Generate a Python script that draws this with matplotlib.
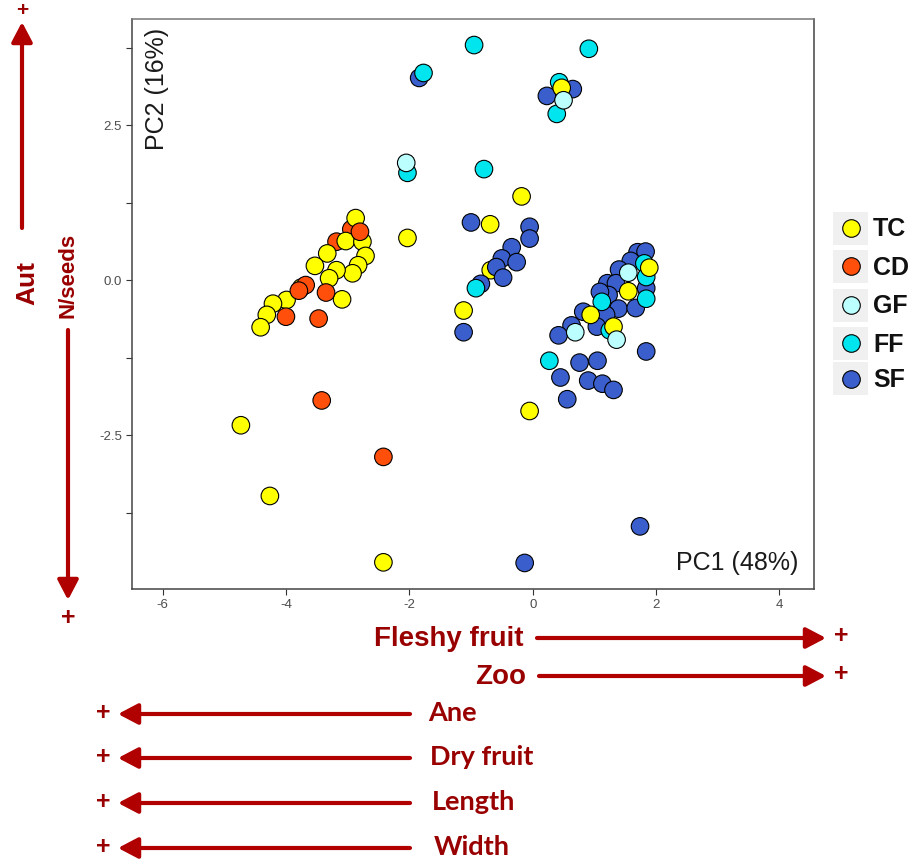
import matplotlib
matplotlib.use("Agg")
import matplotlib.pyplot as plt
from matplotlib.patches import Rectangle
import numpy as np

plt.rcParams["font.family"] = ["Liberation Sans", "DejaVu Sans"]
plt.rcParams["axes.unicode_minus"] = False

# puntos en orden de dibujo (PC1, PC2, grupo)
pc1 = [-0.68, -2.94, -3.18,
       # SF
       -1.84, 0.23, 0.65, -1.00, -0.05, -0.05, -0.34, -0.50, -0.26, -0.59, -0.48, -0.84, -1.12,
       1.70, 1.83, 1.59, 1.40, 1.21, 1.35, 1.84, 1.23, 1.09, 1.39, 1.67, 0.82, 1.19, 1.04,
       0.63, 0.42, 1.84, 0.76, 1.05, 0.45, 0.90, 1.13, 1.31, 0.56, -0.13, 1.74,
       # FF
       -0.95, -1.77, 0.91, 0.43, 0.39, -2.03, -0.79, -0.92, 1.81, 1.84, 1.84, 1.12, 1.25, 0.27,
       # TC
       -2.87, -3.03, -2.76, -2.71, -3.33, -2.83, -2.92, -3.53, -3.18, -3.30, -3.75, -3.09,
       -3.99, -4.21, -4.31, -4.41, -4.73, -4.26, -2.42, -2.03, -0.69, -0.18, -1.12, -0.05,
       0.47, 1.89, 1.55, 0.94, 1.31,
       # CD
       -2.80, -3.68, -3.79, -3.35, -4.00, -3.47, -3.42, -2.42,
       # GF
       -2.05, 0.50, 1.55, 0.69, 1.36]
pc2 = [0.16, 0.82, 0.62,
       3.26, 2.97, 3.08, 0.93, 0.86, 0.67, 0.53, 0.35, 0.29, 0.21, 0.04, -0.06, -0.84,
       0.45, 0.46, 0.31, 0.17, -0.05, -0.05, -0.13, -0.24, -0.19, -0.46, -0.45, -0.51, -0.56, -0.75,
       -0.73, -0.89, -1.15, -1.33, -1.30, -1.57, -1.62, -1.67, -1.77, -1.92, -4.56, -3.97,
       3.79, 3.34, 3.73, 3.19, 2.68, 1.73, 1.79, -0.13, 0.27, 0.05, -0.30, -0.35, -0.81, -1.30,
       1.00, 0.63, 0.62, 0.39, 0.43, 0.24, 0.11, 0.23, 0.16, 0.03, -0.12, -0.31,
       -0.32, -0.38, -0.56, -0.76, -2.34, -3.48, -4.55, 0.68, 0.90, 1.35, -0.49, -2.11,
       3.10, 0.20, -0.18, -0.56, -0.75,
       0.78, -0.08, -0.17, -0.20, -0.59, -0.62, -1.94, -2.85,
       1.89, 2.90, 0.12, -0.84, -0.96]
grupo = (["TC", "CD", "CD"] + ["SF"] * 39 + ["FF"] * 14 + ["TC"] * 29
         + ["CD"] * 8 + ["GF"] * 5)

grupos = ["TC", "CD", "GF", "FF", "SF"]
colores = {"TC": "#FFFF00", "CD": "#FF4F0A", "GF": "#BBFFFF",
           "FF": "#00E5EE", "SF": "#3A5FCD"}

rojo_txt = "#990000"
rojo_flecha = "#B00000"

W, H = 913, 863
fig = plt.figure(figsize=(W / 100, H / 100), dpi=100)
ax = fig.add_axes([131.7 / W, (H - 589) / H, (814 - 131.7) / W, (589 - 19) / H])

ax.scatter(pc1, pc2, c=[colores[g] for g in grupo], s=160,
           edgecolors="black", linewidths=0.8, zorder=3)

ax.set_xlim(-6.5, 4.56)
ax.set_ylim(-4.98, 4.21)
ax.set_xticks([-6, -4, -2, 0, 2, 4])
ax.set_yticks(np.arange(-3.75, 4.0, 1.25))
ax.set_yticklabels(["" if abs(t) % 2.5 else f"{t:.1f}" for t in np.arange(-3.75, 4.0, 1.25)])
ax.tick_params(length=4, width=0.8, color="#333333", labelsize=9.5,
               labelcolor="#4D4D4D", pad=3)
for sp in ax.spines.values():
    sp.set_color("#444444")
    sp.set_linewidth(1.1)
ax.spines["top"].set_color("#777777")

ax.text(0.037, 0.985, "PC2 (16%)", transform=ax.transAxes, rotation=90,
        ha="center", va="top", fontsize=18, color="#1a1a1a")
ax.text(0.9766, 0.046, "PC1 (48%)", transform=ax.transAxes,
        ha="right", va="center", fontsize=18, color="#1a1a1a")

# capa en pixeles para leyenda y flechas
ov = fig.add_axes([0, 0, 1, 1], facecolor="none")
ov.set_xlim(0, W)
ov.set_ylim(H, 0)
ov.axis("off")

ley_y = [228, 266.5, 305, 343.5, 379]
for g, yy in zip(grupos, ley_y):
    ov.add_patch(Rectangle((833, yy - 16.5), 35, 33, color="#F0F0F0", lw=0))
    ov.scatter([850.5], [yy], s=160, c=colores[g], edgecolors="black", linewidths=0.8)
    ov.text(873, yy + 1, g, fontsize=18, fontweight="bold", ha="left", va="center",
            color="#111111")


def flecha(x0, y0, x1, y1):
    ov.annotate("", xy=(x1, y1), xytext=(x0, y0),
                arrowprops=dict(arrowstyle="-|>,head_length=0.8,head_width=0.42",
                                mutation_scale=15, lw=3, color=rojo_flecha,
                                shrinkA=0, shrinkB=0))


def mas(x, y, fs=18):
    ov.text(x, y, "+", fontsize=fs, fontweight="bold", color=rojo_txt,
            ha="center", va="center")


# eje vertical
flecha(22, 228, 22, 22)
mas(22, 11, fs=15)
flecha(68, 330, 68, 600)
mas(68, 618)
ov.text(27, 283, "Aut", rotation=90, fontsize=19, fontweight="bold",
        color=rojo_txt, ha="center", va="center")
ov.text(68, 275, "N/seeds", rotation=90, fontsize=16, fontweight="bold",
        color=rojo_txt, ha="center", va="center")

# eje horizontal, lado positivo
for txt, yy, x0 in [("Fleshy fruit", 638, 537), ("Zoo", 676, 539)]:
    flecha(x0, yy, 826, yy)
    mas(841, yy - 2)
    ov.text(x0 - 13, yy + 1, txt, fontsize=20, fontweight="bold",
            color=rojo_txt, ha="right", va="center")

# eje horizontal, lado negativo
for txt, yy, xt in [("Ane", 714, 428), ("Dry fruit", 758, 430),
                    ("Length", 803, 432), ("Width", 848, 434)]:
    flecha(410, yy, 118, yy)
    mas(103, yy - 1)
    ov.text(xt, yy - 1, txt, fontsize=19.5, fontweight="bold", family="Lato",
            color=rojo_txt, ha="left", va="center")

fig.savefig("out.png", dpi=100)
